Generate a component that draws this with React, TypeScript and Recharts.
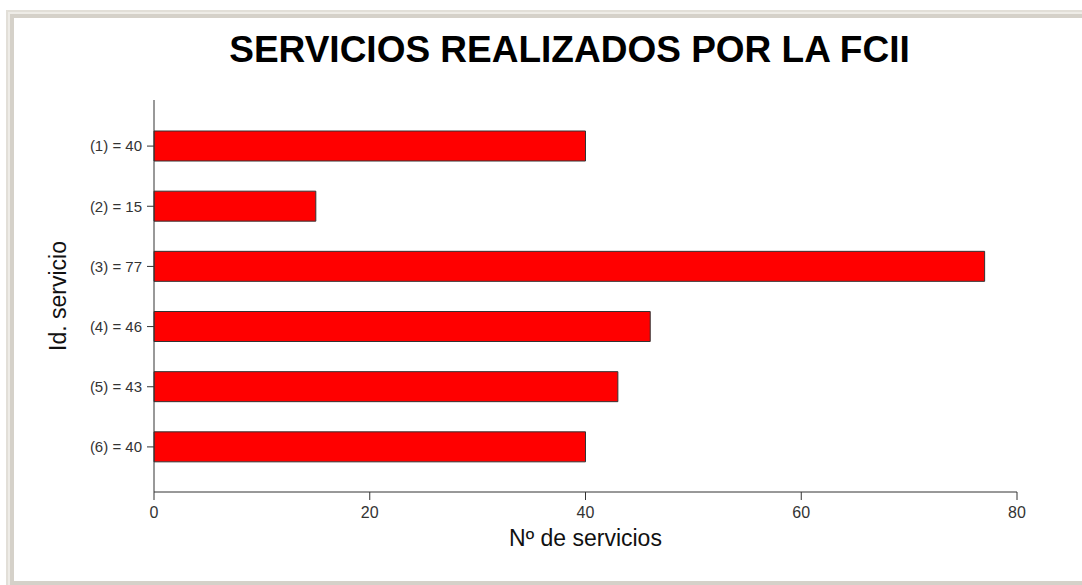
import React from 'react';
import { BarChart, Bar, XAxis, YAxis } from 'recharts';

const categories = ['(1) = 40', '(2) = 15', '(3) = 77', '(4) = 46', '(5) = 43', '(6) = 40'];
const values = [40, 15, 77, 46, 43, 40];
const xTicks = [0, 20, 40, 60, 80];

const data = categories.map((c, i) => ({ name: c, value: values[i] }));

const FONT = '"Liberation Sans", Arial, sans-serif';

export default function App() {
  return (
    <div style={{ position: 'absolute', left: 0, top: 0, width: 1082, height: 585, overflow: 'hidden', background: '#fff' }}>
      <div style={{ position: 'absolute', left: 6, top: 10, width: 1076, height: 575, background: '#e2dfd8' }} />
      <div style={{ position: 'absolute', left: 8, top: 12, width: 1074, height: 573, background: '#eeece7' }} />
      <div style={{ position: 'absolute', left: 10, top: 14, width: 1072, height: 571, background: '#d5d1c9' }} />
      <div style={{ position: 'absolute', left: 14, top: 18, width: 1068, height: 563, background: '#ffffff' }} />
      <svg style={{ position: 'absolute', left: 0, top: 0 }} width={1082} height={80}>
        <text x={569.5} y={61.5} textAnchor="middle" fontFamily={FONT} fontWeight="bold" fontSize={37} fill="#000">
          SERVICIOS REALIZADOS POR LA FCII
        </text>
      </svg>
      <div style={{ position: 'absolute', left: 0, top: 0 }}>
        <BarChart
          width={1082}
          height={585}
          data={data}
          layout="vertical"
          margin={{ top: 100, right: 65, bottom: 33, left: 0 }}
          barSize={30}
        >
          <XAxis
            type="number"
            domain={[0, 80]}
            ticks={xTicks}
            height={60}
            tickSize={8}
            tickMargin={7}
            stroke="#333"
            tick={{ fill: '#333', fontSize: 16, fontFamily: FONT }}
            label={{ value: 'Nº de servicios', position: 'insideBottom', offset: 6, fill: '#111', fontSize: 23, fontFamily: FONT }}
          />
          <YAxis
            type="category"
            dataKey="name"
            width={154}
            padding={{ top: 16, bottom: 15 }}
            tickSize={7}
            tickMargin={5}
            stroke="#333"
            tick={{ fill: '#333', fontSize: 15, fontFamily: FONT }}
            label={{ value: 'Id. servicio', angle: -90, position: 'insideLeft', offset: 58, fill: '#111', fontSize: 23, fontFamily: FONT, style: { textAnchor: 'middle' } }}
          />
          <Bar dataKey="value" fill="#ff0000" stroke="#333" strokeWidth={1} isAnimationActive={false} />
        </BarChart>
      </div>
    </div>
  );
}
